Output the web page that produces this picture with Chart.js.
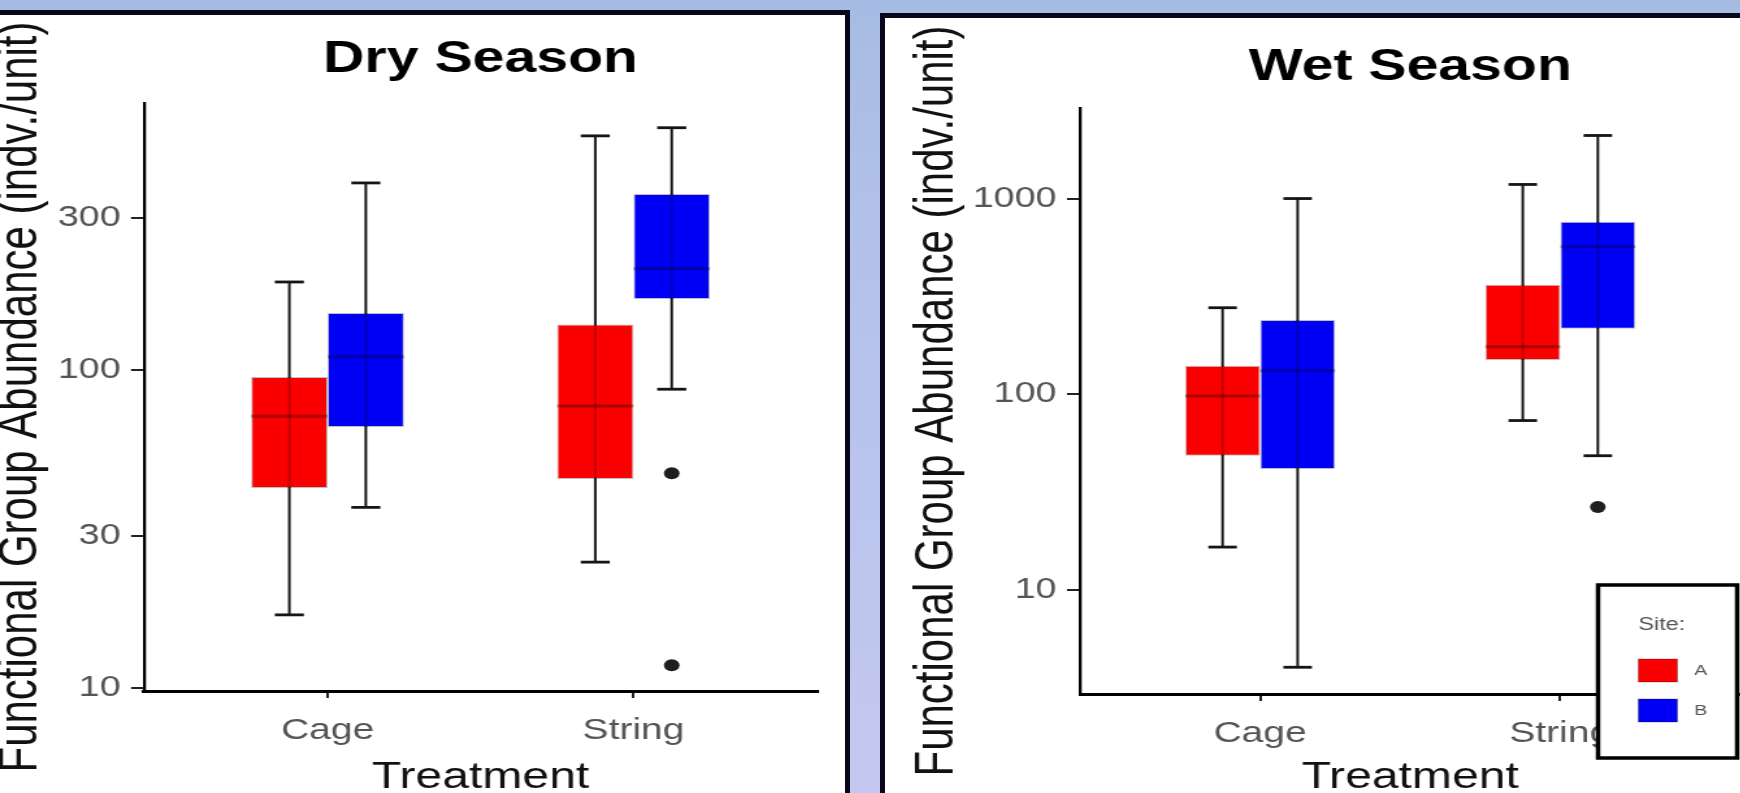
<!DOCTYPE html>
<html>
<head>
<meta charset="utf-8">
<script src="https://cdn.jsdelivr.net/npm/chart.js@4.4.1/dist/chart.umd.min.js"></script>
<style>
html, body { margin: 0; padding: 0; }
body {
  width: 1740px; height: 793px; overflow: hidden; position: relative;
  background: linear-gradient(to bottom, #a6bbe3 0px, #b2c1e9 220px, #c4c8f0 793px);
}
.panel { position: absolute; background: #fff; border-top: 5px solid #07071c; }
#panelDry { left: -5px; top: 10px; width: 850px; height: 800px; border-right: 5px solid #07071c; }
#panelWet { left: 880px; top: 13px; width: 870px; height: 800px; border-left: 5px solid #07071c; }
/* the source picture is stretched sideways, so the canvases are too */
canvas { position: absolute; transform-origin: 0 0; transform: scaleX(1.3); }
#dryChart { left: 0; top: 15px; }
#wetChart { left: 885px; top: 18px; }
</style>
</head>
<body>
<div class="panel" id="panelDry"></div>
<div class="panel" id="panelWet"></div>
<canvas id="dryChart" width="650" height="778"></canvas>
<canvas id="wetChart" width="658" height="775"></canvas>
<script>
// categories and sites
const categories = ['Cage', 'String'];
const siteNames = ['A', 'B'];
const legendTitle = 'Site:';
const xTitle = 'Treatment';
const yTitle = 'Functional Group Abundance (indv./unit)';

// each entry: [lower whisker, Q1, median, Q3, upper whisker], one per category
const dryA = [[17, 42.6, 71.6, 95, 189], [24.9, 45.4, 77, 139, 544]];
const dryB = [[37, 66.2, 110, 151, 387], [87, 167, 208, 357, 577]];
const dryOutA = [[], []];
const dryOutB = [[], [47.4, 11.8]];
const dryTicks = [10, 30, 100, 300];

const wetA = [[16.6, 48.6, 98, 140, 277], [73.5, 150, 175, 363, 1180]];
const wetB = [[4.04, 41.6, 132, 240, 1000], [48.6, 216, 568, 762, 2099]];
const wetOutA = [[], []];
const wetOutB = [[], [26.6]];
const wetTicks = [10, 100, 1000];

const siteColors = ['#fb0000', '#0000f4'];

Chart.defaults.font.family = '"Liberation Sans", Arial, sans-serif';

// whiskers under the boxes, medians and outliers on top
const boxPlotPlugin = {
  id: 'boxWhiskers',
  beforeDatasetsDraw(chart) {
    const ctx = chart.ctx;
    const y = chart.scales.y;
    chart.data.datasets.forEach((ds, di) => {
      chart.getDatasetMeta(di).data.forEach((bar, i) => {
        const s = ds.stats[i];
        const cap = bar.width * 0.19;
        ctx.save();
        ctx.strokeStyle = '#151515';
        ctx.lineWidth = 2;
        ctx.beginPath();
        ctx.moveTo(bar.x, y.getPixelForValue(s[0]));
        ctx.lineTo(bar.x, y.getPixelForValue(s[4]));
        ctx.stroke();
        ctx.lineWidth = 2.8;
        [s[0], s[4]].forEach(v => {
          const py = y.getPixelForValue(v);
          ctx.beginPath();
          ctx.moveTo(bar.x - cap, py);
          ctx.lineTo(bar.x + cap, py);
          ctx.stroke();
        });
        ctx.restore();
      });
    });
  },
  afterDatasetsDraw(chart) {
    const ctx = chart.ctx;
    const y = chart.scales.y;
    chart.data.datasets.forEach((ds, di) => {
      chart.getDatasetMeta(di).data.forEach((bar, i) => {
        const s = ds.stats[i];
        const half = bar.width / 2;
        ctx.save();
        // whisker faintly visible through the box
        ctx.strokeStyle = 'rgba(0,0,0,0.22)';
        ctx.lineWidth = 2;
        ctx.beginPath();
        ctx.moveTo(bar.x, y.getPixelForValue(s[1]));
        ctx.lineTo(bar.x, y.getPixelForValue(s[3]));
        ctx.stroke();
        // median
        ctx.strokeStyle = 'rgba(0,0,0,0.3)';
        ctx.lineWidth = 3;
        const my = y.getPixelForValue(s[2]);
        ctx.beginPath();
        ctx.moveTo(bar.x - half, my);
        ctx.lineTo(bar.x + half, my);
        ctx.stroke();
        // outliers
        ctx.fillStyle = '#1e1e1e';
        ds.outliers[i].forEach(v => {
          ctx.beginPath();
          ctx.arc(bar.x, y.getPixelForValue(v), 6, 0, Math.PI * 2);
          ctx.fill();
        });
        ctx.restore();
      });
    });
  }
};

// ggplot-style legend sitting over the lower right corner
const siteLegendPlugin = {
  id: 'siteLegend',
  afterDraw(chart, args, opts) {
    if (!opts.show) return;
    const ctx = chart.ctx;
    ctx.save();
    ctx.fillStyle = '#fff';
    ctx.fillRect(opts.x, opts.y, opts.w, opts.h);
    ctx.strokeStyle = '#000';
    ctx.lineWidth = 3.5;
    ctx.strokeRect(opts.x, opts.y, opts.w, opts.h);
    ctx.fillStyle = '#555';
    ctx.font = '18px "Liberation Sans", Arial, sans-serif';
    ctx.textAlign = 'center';
    ctx.textBaseline = 'middle';
    ctx.fillText(legendTitle, opts.x + 49, opts.y + 40);
    chart.data.datasets.forEach((ds, i) => {
      const top = opts.y + 74 + i * 40;
      ctx.fillStyle = ds.backgroundColor;
      ctx.fillRect(opts.x + 31, top, 30, 23);
      ctx.strokeStyle = 'rgba(0,0,0,0.25)';
      ctx.lineWidth = 1;
      ctx.strokeRect(opts.x + 31, top, 30, 23);
      ctx.fillStyle = '#555';
      ctx.font = '15px "Liberation Sans", Arial, sans-serif';
      ctx.textAlign = 'left';
      ctx.fillText(ds.label, opts.x + 74, top + 12);
    });
    ctx.restore();
  }
};

function makeChart(id, title, dataA, dataB, outA, outB, yMin, yMax, yTicks, lay, legend) {
  const sets = [dataA, dataB].map((d, si) => ({
    label: siteNames[si],
    data: d.map((s, i) => ({ x: i + 1, y: [s[1], s[3]] })),
    stats: d,
    outliers: [outA, outB][si],
    backgroundColor: siteColors[si],
    borderColor: 'rgba(0,0,0,0.25)',
    borderWidth: 1,
    borderSkipped: false,
    categoryPercentage: 0.5,
    barPercentage: 1
  }));
  return new Chart(document.getElementById(id), {
    type: 'bar',
    data: { datasets: sets },
    plugins: [boxPlotPlugin, siteLegendPlugin],
    options: {
      responsive: false,
      animation: false,
      layout: { padding: { left: lay.padLeft, right: lay.padRight, top: 0, bottom: 0 } },
      plugins: {
        legend: { display: false },
        tooltip: { enabled: false },
        title: {
          display: true, text: title, fullSize: false, color: '#000',
          font: { size: 44, weight: 'bold', lineHeight: 1.2 },
          padding: { top: lay.titleTop, bottom: lay.titleBottom }
        },
        siteLegend: legend
      },
      scales: {
        x: {
          type: 'linear', min: 0.4, max: 2.6, offset: false,
          afterBuildTicks: s => { s.ticks = categories.map((c, i) => ({ value: i + 1 })); },
          afterFit: s => { s.height = lay.xHeight; },
          ticks: { callback: v => categories[v - 1], color: '#555', font: { size: 30 }, padding: 15, maxRotation: 0 },
          grid: { display: true, offset: false, drawOnChartArea: false, drawTicks: true, tickLength: 7, color: '#222', lineWidth: 2 },
          border: { display: true, color: '#000', width: 3 },
          title: { display: true, text: xTitle, color: '#111', font: { size: 37, lineHeight: 0.8 }, padding: 0 }
        },
        y: {
          type: 'logarithmic', min: yMin, max: yMax,
          afterBuildTicks: s => { s.ticks = yTicks.map(v => ({ value: v })); },
          afterFit: s => { s.width = lay.yWidth; },
          ticks: { callback: v => String(v), color: '#555', font: { size: 29 }, padding: 8 },
          grid: { display: true, drawOnChartArea: false, drawTicks: true, tickLength: 10, color: '#222', lineWidth: 2 },
          border: { display: true, color: '#000', width: 2.3 },
          title: { display: true, text: yTitle, color: '#111', font: { size: 42, lineHeight: 0.8 }, padding: 0 }
        }
      }
    }
  });
}

makeChart('dryChart', 'Dry Season', dryA, dryB, dryOutA, dryOutB, 9.8, 690, dryTicks,
  { padLeft: 0, padRight: 21.5, titleTop: 18.6, titleBottom: 16.6, xHeight: 102, yWidth: 110.8 },
  { show: false });

makeChart('wetChart', 'Wet Season', wetA, wetB, wetOutA, wetOutB, 2.95, 2900, wetTicks,
  { padLeft: 24, padRight: 0, titleTop: 23.6, titleBottom: 13.6, xHeight: 99, yWidth: 126 },
  { show: true, x: 548.5, y: 567, w: 107, h: 173 });
</script>
</body>
</html>
